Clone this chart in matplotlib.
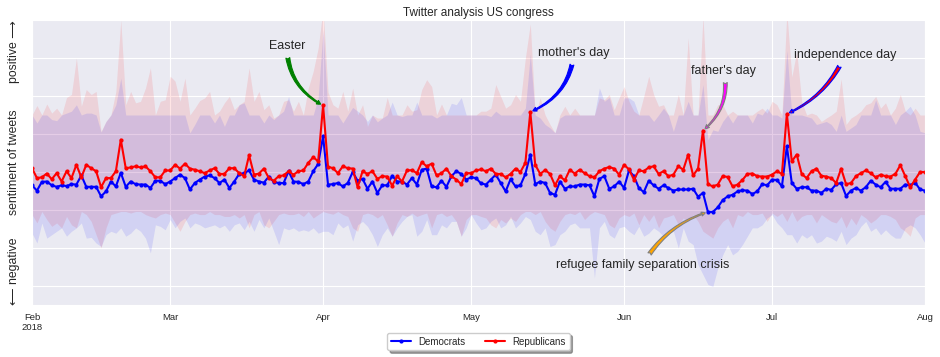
import matplotlib
matplotlib.use('Agg')
import matplotlib.pyplot as plt
import numpy as np
import pandas as pd
import seaborn as sns

# daily mean sentiment, Feb 1 - Aug 1 2018
rep_mean = [
    0.110, 0.084, 0.086, 0.096, 0.081, 0.097, 0.075, 0.102, 0.084, 0.119, 0.086, 0.119, 0.110, 0.102, 0.060, 0.084,
    0.084, 0.102, 0.185, 0.110, 0.112, 0.115, 0.112, 0.115, 0.102, 0.086, 0.086, 0.104, 0.104, 0.119, 0.109,
    0.122, 0.109, 0.106, 0.102, 0.097, 0.104, 0.110, 0.095, 0.095, 0.110, 0.110, 0.097, 0.089, 0.144, 0.093,
    0.096, 0.109, 0.084, 0.077, 0.089, 0.091, 0.102, 0.093, 0.102, 0.104, 0.124, 0.139, 0.128, 0.275, 0.114,
    0.110, 0.097, 0.115, 0.110, 0.109, 0.060, 0.102, 0.095, 0.102, 0.082, 0.089, 0.088, 0.064, 0.089, 0.075, 0.104,
    0.105, 0.097, 0.126, 0.115, 0.122, 0.091, 0.097, 0.109, 0.089, 0.080, 0.068, 0.097, 0.097, 0.104, 0.107,
    0.102, 0.109, 0.095, 0.095, 0.086, 0.095, 0.109, 0.100, 0.124, 0.258, 0.119, 0.095, 0.105, 0.095, 0.065,
    0.089, 0.078, 0.106, 0.096, 0.106, 0.097, 0.089, 0.086, 0.102, 0.109, 0.113, 0.109, 0.093, 0.119, 0.107,
    0.080, 0.104, 0.102, 0.112, 0.115, 0.095, 0.102, 0.089, 0.093, 0.115, 0.106, 0.146, 0.091, 0.109, 0.209,
    0.068, 0.062, 0.067, 0.089, 0.087, 0.062, 0.067, 0.079, 0.095, 0.096, 0.089, 0.088, 0.088, 0.093, 0.102,
    0.095, 0.253, 0.128, 0.146, 0.095, 0.084, 0.102, 0.109, 0.090, 0.088, 0.084, 0.071, 0.109, 0.068, 0.071,
    0.089, 0.097, 0.104, 0.097, 0.086, 0.093, 0.089, 0.088, 0.095, 0.118, 0.089, 0.060, 0.080, 0.100, 0.100,
]
dem_mean = [
    0.065, 0.051, 0.074, 0.075, 0.065, 0.061, 0.065, 0.063, 0.068, 0.067, 0.091, 0.061, 0.061, 0.061, 0.036, 0.049,
    0.075, 0.062, 0.098, 0.061, 0.075, 0.068, 0.067, 0.067, 0.058, 0.077, 0.077, 0.068, 0.075, 0.084, 0.093,
    0.084, 0.054, 0.071, 0.080, 0.088, 0.091, 0.084, 0.071, 0.080, 0.058, 0.075, 0.095, 0.097, 0.104, 0.080,
    0.075, 0.072, 0.088, 0.074, 0.071, 0.071, 0.102, 0.075, 0.074, 0.068, 0.075, 0.102, 0.121, 0.194, 0.067,
    0.068, 0.071, 0.062, 0.071, 0.100, 0.077, 0.082, 0.056, 0.075, 0.045, 0.065, 0.065, 0.090, 0.075, 0.075, 0.067,
    0.084, 0.067, 0.106, 0.109, 0.062, 0.060, 0.077, 0.061, 0.089, 0.102, 0.095, 0.080, 0.086, 0.084, 0.070,
    0.067, 0.080, 0.093, 0.071, 0.049, 0.081, 0.062, 0.065, 0.095, 0.146, 0.068, 0.075, 0.071, 0.045, 0.040,
    0.075, 0.056, 0.062, 0.062, 0.067, 0.067, 0.065, 0.036, 0.082, 0.089, 0.056, 0.062, 0.075, 0.058, 0.104,
    0.089, 0.058, 0.047, 0.077, 0.065, 0.056, 0.065, 0.058, 0.051, 0.054, 0.054, 0.054, 0.056, 0.035, 0.045,
    -0.005, -0.005, 0.007, 0.026, 0.036, 0.040, 0.049, 0.052, 0.051, 0.042, 0.049, 0.068, 0.065, 0.080, 0.079,
    0.062, 0.168, 0.071, 0.056, 0.060, 0.060, 0.051, 0.051, 0.045, 0.056, 0.053, 0.068, 0.071, 0.037, 0.051,
    0.058, 0.051, 0.060, 0.077, 0.067, 0.060, 0.074, 0.056, 0.056, 0.056, 0.067, 0.065, 0.072, 0.054, 0.051,
]

# spread of the tweets (upper / lower band)
rep_hi = [
    0.25, 0.275, 0.25, 0.279, 0.255, 0.268, 0.25, 0.296, 0.304, 0.400, 0.273, 0.317, 0.304, 0.312, 0.207, 0.233,
    0.25, 0.312, 0.50, 0.277, 0.312, 0.282, 0.286, 0.321, 0.374, 0.25, 0.286, 0.290, 0.352, 0.339, 0.286,
    0.347, 0.25, 0.268, 0.288, 0.295, 0.312, 0.25, 0.260, 0.282, 0.299, 0.264, 0.277, 0.286, 0.374, 0.286,
    0.312, 0.264, 0.277, 0.242, 0.25, 0.286, 0.290, 0.260, 0.286, 0.25, 0.321, 0.365, 0.426, 0.53, 0.31,
    0.277, 0.268, 0.312, 0.260, 0.321, 0.25, 0.277, 0.220, 0.25, 0.242, 0.242, 0.296, 0.25, 0.25, 0.25, 0.277,
    0.260, 0.264, 0.317, 0.343, 0.325, 0.25, 0.279, 0.25, 0.25, 0.25, 0.25, 0.25, 0.25, 0.25, 0.260,
    0.260, 0.268, 0.330, 0.299, 0.268, 0.277, 0.304, 0.286, 0.400, 0.49, 0.25, 0.295, 0.25, 0.225, 0.203,
    0.25, 0.273, 0.25, 0.268, 0.25, 0.25, 0.25, 0.25, 0.295, 0.290, 0.304, 0.264, 0.295, 0.325, 0.286,
    0.260, 0.25, 0.299, 0.352, 0.304, 0.273, 0.277, 0.25, 0.25, 0.304, 0.25, 0.453, 0.25, 0.25, 0.51,
    0.25, 0.25, 0.277, 0.277, 0.25, 0.260, 0.25, 0.25, 0.25, 0.25, 0.260, 0.268, 0.255, 0.286, 0.277,
    0.25, 0.52, 0.35, 0.417, 0.286, 0.25, 0.255, 0.25, 0.233, 0.242, 0.25, 0.260, 0.345, 0.225, 0.242,
    0.25, 0.260, 0.277, 0.282, 0.299, 0.268, 0.282, 0.25, 0.268, 0.304, 0.260, 0.25, 0.268, 0.25, 0.25,
]
dem_hi = [
    0.25, 0.229, 0.25, 0.25, 0.238, 0.235, 0.25, 0.255, 0.260, 0.277, 0.25, 0.255, 0.255, 0.25, 0.205, 0.233,
    0.25, 0.277, 0.347, 0.25, 0.25, 0.25, 0.25, 0.25, 0.25, 0.25, 0.25, 0.25, 0.25, 0.25, 0.25,
    0.25, 0.203, 0.225, 0.25, 0.25, 0.25, 0.229, 0.25, 0.220, 0.25, 0.25, 0.277, 0.282, 0.25, 0.25,
    0.25, 0.229, 0.25, 0.238, 0.25, 0.260, 0.299, 0.25, 0.25, 0.25, 0.25, 0.25, 0.295, 0.475, 0.25,
    0.25, 0.25, 0.229, 0.25, 0.270, 0.260, 0.25, 0.233, 0.25, 0.232, 0.242, 0.25, 0.284, 0.25, 0.246, 0.25,
    0.25, 0.284, 0.25, 0.25, 0.25, 0.242, 0.25, 0.25, 0.281, 0.277, 0.296, 0.25, 0.25, 0.25, 0.25,
    0.25, 0.246, 0.260, 0.25, 0.25, 0.25, 0.25, 0.25, 0.268, 0.41, 0.25, 0.242, 0.225, 0.216, 0.203,
    0.242, 0.25, 0.25, 0.25, 0.25, 0.25, 0.25, 0.25, 0.321, 0.286, 0.296, 0.25, 0.25, 0.295, 0.295,
    0.286, 0.25, 0.25, 0.25, 0.233, 0.25, 0.268, 0.25, 0.207, 0.25, 0.25, 0.286, 0.25, 0.25, 0.33,
    0.185, 0.211, 0.207, 0.233, 0.25, 0.229, 0.25, 0.25, 0.25, 0.229, 0.255, 0.25, 0.268, 0.25, 0.25,
    0.242, 0.42, 0.25, 0.25, 0.25, 0.246, 0.242, 0.225, 0.229, 0.233, 0.225, 0.207, 0.25, 0.207, 0.216,
    0.225, 0.25, 0.25, 0.25, 0.29, 0.25, 0.25, 0.25, 0.225, 0.25, 0.260, 0.273, 0.25, 0.207, 0.203,
]
rep_lo = [
    -0.012, -0.034, -0.004, -0.025, -0.043, -0.034, -0.047, -0.017, -0.039, -0.047, -0.004, -0.012, -0.030, -0.065,
    -0.100, -0.047, -0.012, -0.008, -0.004, -0.004, -0.008, -0.004, -0.004, -0.012, -0.017, -0.021, -0.012, -0.008,
    -0.012, -0.034, -0.056,
    -0.030, -0.012, -0.008, -0.012, -0.012, -0.004, -0.012, -0.012, -0.017, -0.017, -0.012, -0.021, -0.012, -0.047,
    -0.012, -0.004, -0.039, -0.047, -0.030, -0.012, -0.008, -0.012, -0.012, -0.008, -0.017, -0.004, -0.021, -0.012,
    -0.004, -0.008,
    -0.011, -0.004, -0.012, -0.017, -0.047, -0.056, -0.012, -0.008, -0.012, -0.021, -0.012, -0.039, -0.069, -0.034,
    -0.012, -0.017, -0.008, -0.017, -0.012, -0.008, -0.047, -0.012, -0.008, -0.017, -0.012, -0.030, -0.069, -0.025,
    -0.012, -0.012, -0.017,
    -0.021, -0.039, -0.047, -0.025, -0.034, -0.021, -0.030, -0.012, -0.004, -0.004, -0.012, -0.004, -0.030, -0.047,
    -0.056, -0.030, -0.012, -0.008, -0.012, -0.004, -0.025, -0.012, -0.004, -0.008, -0.012, -0.039, -0.047, -0.021,
    -0.012, -0.017,
    -0.008, -0.039, -0.012, -0.030, -0.012, -0.047, -0.021, -0.017, -0.012, -0.039, -0.021, -0.030, -0.012, -0.030,
    -0.056, -0.065, -0.074, -0.047, -0.030, -0.021, -0.047, -0.012, -0.017, -0.004, -0.012, -0.012, -0.008, -0.030,
    -0.008, -0.017,
    -0.008, -0.030, -0.004, -0.030, -0.017, -0.012, -0.012, -0.034, -0.012, -0.021, -0.030, -0.034, -0.017, -0.047,
    -0.021, -0.039, -0.012, -0.021, -0.034, -0.025, -0.012, -0.012, -0.017, -0.025, -0.047, -0.056, -0.069, -0.021,
    -0.012, -0.012,
]
dem_lo = [
    -0.061, -0.087, -0.034, -0.074, -0.065, -0.056, -0.047, -0.069, -0.056, -0.047, -0.034, -0.074, -0.072, -0.087,
    -0.096, -0.065, -0.056, -0.061, -0.047, -0.069, -0.061, -0.047, -0.056, -0.074, -0.113, -0.039, -0.043, -0.052,
    -0.025, -0.047, -0.030,
    -0.021, -0.047, -0.034, -0.039, -0.047, -0.043, -0.039, -0.047, -0.040, -0.056, -0.039, -0.034, -0.052, -0.030,
    -0.056, -0.025, -0.047, -0.021, -0.056, -0.091, -0.047, -0.052, -0.047, -0.056, -0.052, -0.056, -0.047, -0.061,
    -0.056, -0.056,
    -0.065, -0.034, -0.047, -0.039, -0.082, -0.039, -0.030, -0.043, -0.065, -0.096, -0.065, -0.047, -0.069, -0.047,
    -0.030, -0.017, -0.012, -0.069, -0.056, -0.025, -0.065, -0.065, -0.039, -0.047, -0.030, -0.030, -0.069, -0.047,
    -0.012, -0.034, -0.052,
    -0.047, -0.030, -0.021, -0.047, -0.039, -0.017, -0.047, -0.034, -0.017, -0.025, -0.056, -0.065, -0.047, -0.096,
    -0.091, -0.065, -0.056, -0.039, -0.034, -0.047, -0.047, -0.047, -0.179, -0.047, -0.030, -0.065, -0.074, -0.047,
    -0.043, -0.056,
    -0.065, -0.043, -0.069, -0.061, -0.047, -0.056, -0.069, -0.061, -0.056, -0.100, -0.047, -0.082, -0.091, -0.144,
    -0.170, -0.196, -0.201, -0.153, -0.118, -0.091, -0.118, -0.109, -0.091, -0.069, -0.047, -0.047, -0.039, -0.021,
    -0.012, -0.034,
    -0.047, -0.065, -0.065, -0.087, -0.065, -0.074, -0.065, -0.087, -0.082, -0.069, -0.074, -0.082, -0.056, -0.091,
    -0.074, -0.065, -0.043, -0.030, -0.056, -0.047, -0.065, -0.052, -0.065, -0.074, -0.074, -0.047, -0.039, -0.047,
    -0.065, -0.087,
]

month_labels = ['Feb\n2018', 'Mar', 'Apr', 'May', 'Jun', 'Jul', 'Aug']

# (label, date of the event, which series the arrow points at, text position, colours, curvature)
events = [
    ("Easter", '2018-04-01', 'rep', ('2018-03-24 16:00', 0.432), 'green', 'green', 0.3),
    ("mother's day", '2018-05-13', 'rep', ('2018-05-21 20:00', 0.414), 'blue', 'blue', -0.3),
    ("father's day", '2018-06-17', 'rep', ('2018-06-21 05:00', 0.367), 'magenta', 'gray', -0.3),
    ("independence day", '2018-07-04', 'rep', ('2018-07-15 19:00', 0.409), 'red', 'blue', -0.2),
    ("refugee family separation crisis", '2018-06-18', 'dem', ('2018-06-04 17:00', -0.146), 'orange', 'gray', -0.2),
]

dates = pd.date_range('2018-02-01', '2018-08-01', freq='D')
for arr in (rep_mean, dem_mean, rep_hi, dem_hi, rep_lo, dem_lo):
    assert len(arr) == len(dates), len(arr)

sns.set_style('darkgrid')
plt.rcParams['font.family'] = ['Liberation Sans', 'DejaVu Sans']

fig = plt.figure(figsize=(9.4, 3.57), dpi=100)
ax = fig.add_axes([32 / 940, 52 / 357, 893 / 940, 285 / 357])

ax.fill_between(dates, rep_lo, rep_hi, color='red', alpha=0.1, lw=0)
ax.fill_between(dates, dem_lo, dem_hi, color='blue', alpha=0.1, lw=0)
ax.plot(dates, dem_mean, color='blue', marker='.', ms=4, lw=1.5, label='Democrats')
ax.plot(dates, rep_mean, color='red', marker='.', ms=4, lw=1.5, label='Republicans')

ax.set_xlim(dates[0], dates[-1])
ax.set_ylim(-0.25, 0.5)
ax.set_yticks(np.arange(-0.2, 0.45, 0.1))
ax.set_yticklabels([])
ticks = pd.date_range('2018-02-01', '2018-08-01', freq='MS')
ax.set_xticks(ticks)
ax.set_xticklabels(month_labels, fontsize=6.8, color='.15')
ax.tick_params(axis='x', pad=2)

ax.set_title('Twitter analysis US congress', fontsize=8.5, color='.15', pad=3)

# y label split in three parts along the axis
ylab = dict(rotation=90, fontsize=8.8, color='.15', ha='center', transform=ax.transAxes)
ax.text(-0.02, 0.0, '\u27f5 negative', va='bottom', **ylab)
ax.text(-0.02, 0.5, 'sentiment of tweets', va='center', **ylab)
ax.text(-0.02, 1.0, 'positive \u27f6', va='top', **ylab)

series = {'rep': rep_mean, 'dem': dem_mean}
for label, day, who, (tx, ty), fc, ec, rad in events:
    i = dates.get_loc(pd.Timestamp(day))
    ax.annotate(label, xy=(dates[i], series[who][i]), xytext=(pd.Timestamp(tx), ty),
                ha='center', va='center', fontsize=9, color='.15',
                arrowprops=dict(arrowstyle='fancy', fc=fc, ec=ec, lw=0.8, mutation_scale=7,
                                connectionstyle=f'arc3,rad={rad}'))

leg = ax.legend(loc='upper center', bbox_to_anchor=(0.5, -0.08), ncol=2, fontsize=7,
                frameon=True, shadow=True, fancybox=True, facecolor='white', edgecolor='0.8')

fig.savefig('out.png', dpi=100)
